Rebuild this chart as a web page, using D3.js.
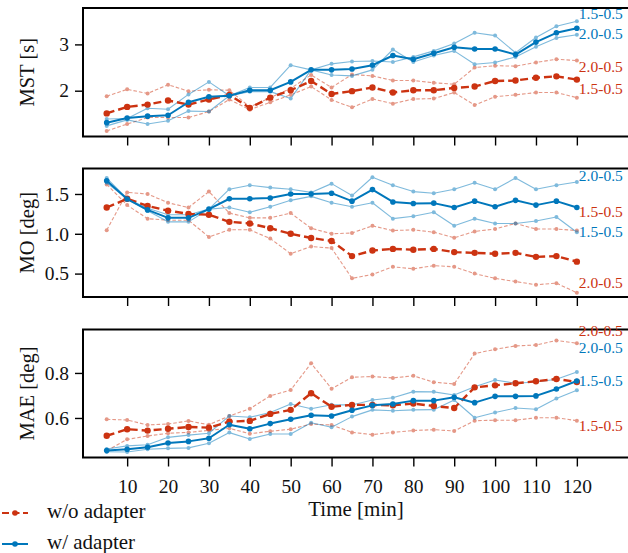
<!DOCTYPE html>
<html>
<head>
<meta charset="utf-8">
<script src="https://cdn.jsdelivr.net/npm/d3@7"></script>
<style>
body { margin: 0; background: #fff; }
svg text { font-family: "Liberation Serif", "DejaVu Serif", "Times New Roman", serif; }
</style>
</head>
<body>
<svg width="628" height="553"></svg>
<script>
var times = [5,10,15,20,25,30,35,40,45,50,55,60,65,70,75,80,85,90,95,100,105,110,115,120];

// MST [s]
var mstWo   = [1.51,1.65,1.70,1.79,1.70,1.81,1.91,1.63,1.85,2.01,2.21,1.93,1.99,2.07,1.96,2.01,2.01,2.06,2.09,2.21,2.22,2.28,2.31,2.24];
var mstWo20 = [1.88,2.03,1.94,2.13,1.99,2.02,2.01,1.65,1.85,2.05,2.34,2.07,2.35,2.32,2.22,2.22,2.17,2.14,2.50,2.54,2.53,2.61,2.68,2.65];
var mstWo15 = [1.13,1.28,1.42,1.42,1.42,1.55,1.81,1.59,1.75,1.91,2.09,1.80,1.64,1.82,1.72,1.82,1.83,1.96,1.69,1.87,1.91,1.96,1.96,1.85];
var mstW    = [1.31,1.41,1.45,1.47,1.75,1.87,1.89,2.01,2.01,2.19,2.45,2.45,2.47,2.55,2.76,2.68,2.81,2.94,2.90,2.90,2.78,3.05,3.25,3.35];
var mstW15  = [1.39,1.40,1.62,1.60,1.92,2.19,1.89,2.07,2.07,2.55,2.45,2.58,2.63,2.64,2.62,2.73,2.86,3.02,3.25,3.19,2.82,3.15,3.39,3.50];
var mstW20  = [1.24,1.37,1.28,1.35,1.56,1.55,1.89,1.98,1.98,1.83,2.45,2.34,2.32,2.45,2.89,2.62,2.76,2.86,2.57,2.61,2.73,2.95,3.14,3.21];

// MO [deg]
var moWo   = [1.33,1.44,1.35,1.29,1.25,1.24,1.15,1.13,1.07,1.00,0.947,0.91,0.72,0.79,0.81,0.80,0.81,0.77,0.76,0.75,0.76,0.71,0.72,0.65];
var moWo15 = [1.045,1.52,1.50,1.39,1.33,1.53,1.26,1.20,1.20,1.26,1.07,1.00,1.01,1.10,1.04,1.05,1.02,0.95,1.03,1.06,1.13,1.06,1.06,1.04];
var moWo20 = [1.62,1.36,1.19,1.17,1.17,0.96,1.05,1.05,0.94,0.75,0.84,0.82,0.44,0.49,0.585,0.56,0.60,0.585,0.50,0.44,0.40,0.36,0.38,0.26];
var moW    = [1.666,1.436,1.30,1.20,1.20,1.31,1.44,1.44,1.45,1.50,1.50,1.51,1.41,1.555,1.40,1.38,1.385,1.33,1.41,1.34,1.42,1.36,1.41,1.33];
var moW20  = [1.70,1.44,1.32,1.24,1.24,1.31,1.56,1.61,1.58,1.56,1.52,1.63,1.48,1.71,1.61,1.53,1.51,1.56,1.64,1.56,1.70,1.56,1.61,1.65];
var moW15  = [1.64,1.44,1.29,1.15,1.15,1.31,1.33,1.27,1.34,1.42,1.47,1.39,1.34,1.39,1.19,1.22,1.27,1.10,1.19,1.13,1.13,1.16,1.21,1.02];

// MAE [deg]
var maeWo   = [0.521,0.55,0.544,0.552,0.56,0.557,0.584,0.587,0.618,0.636,0.71,0.65,0.658,0.658,0.656,0.664,0.653,0.644,0.736,0.745,0.754,0.763,0.773,0.76];
var maeWo20 = [0.594,0.591,0.569,0.573,0.587,0.57,0.609,0.641,0.698,0.724,0.843,0.73,0.781,0.784,0.778,0.787,0.759,0.751,0.886,0.905,0.92,0.924,0.944,0.932];
var maeWo15 = [0.455,0.505,0.52,0.532,0.536,0.545,0.554,0.53,0.541,0.55,0.573,0.569,0.536,0.526,0.536,0.544,0.548,0.542,0.588,0.59,0.59,0.601,0.601,0.588];
var maeW    = [0.455,0.461,0.47,0.489,0.496,0.51,0.57,0.552,0.575,0.594,0.612,0.609,0.634,0.656,0.662,0.677,0.677,0.692,0.668,0.696,0.696,0.698,0.729,0.764];
var maeW15  = [0.462,0.476,0.481,0.514,0.524,0.532,0.609,0.603,0.624,0.662,0.641,0.659,0.658,0.68,0.69,0.717,0.716,0.702,0.739,0.769,0.754,0.76,0.772,0.804];
var maeW20  = [0.45,0.449,0.461,0.465,0.467,0.488,0.535,0.507,0.529,0.529,0.579,0.559,0.606,0.636,0.632,0.636,0.637,0.68,0.601,0.624,0.644,0.639,0.686,0.723];

// end labels (y in data units)
var mstLabelText = ["1.5-0.5","2.0-0.5","2.0-0.5","1.5-0.5"];
var mstLabelKind = ["w","w","wo","wo"];
var mstLabelY    = [3.62, 3.20, 2.48, 2.0];
var moLabelText  = ["2.0-0.5","1.5-0.5","1.5-0.5","2.0-0.5"];
var moLabelKind  = ["w","wo","w","wo"];
var moLabelY     = [1.71, 1.26, 1.01, 0.36];
var maeLabelText = ["2.0-0.5","2.0-0.5","1.5-0.5","1.5-0.5"];
var maeLabelKind = ["wo","w","w","wo"];
var maeLabelY    = [0.982, 0.906, 0.756, 0.556];

var xTicks = [10,20,30,40,50,60,70,80,90,100,110,120];

var red = "#cc3311", blue = "#0077bb";
var svg = d3.select("svg");

var x = d3.scaleLinear().domain([-0.8, 133]).range([83, 630]);

var panels = [
  {label: "MST [s]", top: 8, bottom: 136.5, domain: [1.011, 3.786], ticks: [2,3], fmt: d3.format("d"),
   wo: mstWo, wo2: [mstWo15, mstWo20], w: mstW, w2: [mstW15, mstW20],
   lt: mstLabelText, lk: mstLabelKind, ly: mstLabelY},
  {label: "MO [deg]", top: 168.5, bottom: 297, domain: [0.206, 1.82], ticks: [0.5,1.0,1.5], fmt: d3.format(".1f"),
   wo: moWo, wo2: [moWo15, moWo20], w: moW, w2: [moW15, moW20],
   lt: moLabelText, lk: moLabelKind, ly: moLabelY},
  {label: "MAE [deg]", top: 329.5, bottom: 457.5, domain: [0.4244, 0.993], ticks: [0.6,0.8], fmt: d3.format(".1f"),
   wo: maeWo, wo2: [maeWo15, maeWo20], w: maeW, w2: [maeW15, maeW20],
   lt: maeLabelText, lk: maeLabelKind, ly: maeLabelY}
];

function drawSeries(g, y, vals, color, lw, dash, r, op) {
  var pts = times.map(function(t, i) { return [t, vals[i]]; });
  var line = d3.line().x(function(d) { return x(d[0]); }).y(function(d) { return y(d[1]); });
  var s = g.append("g").attr("opacity", op);
  s.append("path")
    .attr("d", line(pts))
    .attr("fill", "none")
    .attr("stroke", color)
    .attr("stroke-width", lw)
    .attr("stroke-dasharray", dash)
    .attr("stroke-linejoin", "round");
  s.selectAll("circle").data(pts).enter().append("circle")
    .attr("cx", function(d) { return x(d[0]); })
    .attr("cy", function(d) { return y(d[1]); })
    .attr("r", r)
    .attr("fill", color);
}

panels.forEach(function(p, k) {
  var y = d3.scaleLinear().domain(p.domain).range([p.bottom, p.top]);
  var g = svg.append("g");

  // thin runs first, main runs on top
  p.wo2.forEach(function(v) { drawSeries(g, y, v, red, 1.1, "3.6,2", 2, 0.5); });
  p.w2.forEach(function(v) { drawSeries(g, y, v, blue, 1.1, null, 2, 0.5); });
  drawSeries(g, y, p.wo, red, 2.4, "8,4", 3.2, 1);
  drawSeries(g, y, p.w, blue, 2, null, 2.8, 1);

  // axes
  var ya = g.append("g").attr("transform", "translate(" + x.range()[0] + ",0)")
    .call(d3.axisLeft(y).tickValues(p.ticks).tickFormat(p.fmt).tickSize(8).tickSizeOuter(0).tickPadding(6));
  var xa = g.append("g").attr("transform", "translate(0," + p.bottom + ")")
    .call(d3.axisBottom(x).tickValues(xTicks).tickSize(9).tickSizeOuter(0).tickPadding(13));
  if (k < 2) xa.selectAll("text").remove();
  [ya, xa].forEach(function(a) {
    a.attr("font-family", null);
    a.select(".domain").remove();
    a.selectAll("line").attr("stroke", "#000").attr("stroke-width", 1.4);
    a.selectAll("text").attr("font-size", 19.5).attr("fill", "#111");
  });

  // spines (left, top, bottom)
  g.append("path")
    .attr("d", "M" + 640 + "," + p.top + "H" + x.range()[0] + "V" + p.bottom + "H" + 640)
    .attr("fill", "none").attr("stroke", "#000").attr("stroke-width", 2);

  g.append("text")
    .attr("transform", "translate(29," + (p.top + p.bottom) / 2 + ") rotate(-90)")
    .attr("text-anchor", "middle")
    .attr("dominant-baseline", "middle")
    .attr("font-size", 20.5)
    .attr("fill", "#111")
    .text(p.label);

  p.lt.forEach(function(t, i) {
    g.append("text")
      .attr("x", x(120) + 2)
      .attr("y", y(p.ly[i]))
      .attr("dominant-baseline", "middle")
      .attr("font-size", 15.5)
      .attr("fill", p.lk[i] == "w" ? blue : red)
      .text(t);
  });
});

svg.append("text")
  .attr("x", 356).attr("y", 511)
  .attr("text-anchor", "middle").attr("dominant-baseline", "middle")
  .attr("font-size", 21)
  .attr("fill", "#111")
  .text("Time [min]");

// legend
var leg = [["w/o adapter", red, "7,3.5", 513], ["w/ adapter", blue, null, 544]];
leg.forEach(function(l) {
  svg.append("line")
    .attr("x1", 2).attr("x2", 28).attr("y1", l[3]).attr("y2", l[3])
    .attr("stroke", l[1]).attr("stroke-width", 2).attr("stroke-dasharray", l[2]);
  svg.append("circle").attr("cx", 15).attr("cy", l[3]).attr("r", 2.8).attr("fill", l[1]);
  svg.append("text")
    .attr("x", 47).attr("y", l[3])
    .attr("dominant-baseline", "middle")
    .attr("font-size", 21)
    .attr("fill", "#111")
    .text(l[0]);
});
</script>
</body>
</html>
